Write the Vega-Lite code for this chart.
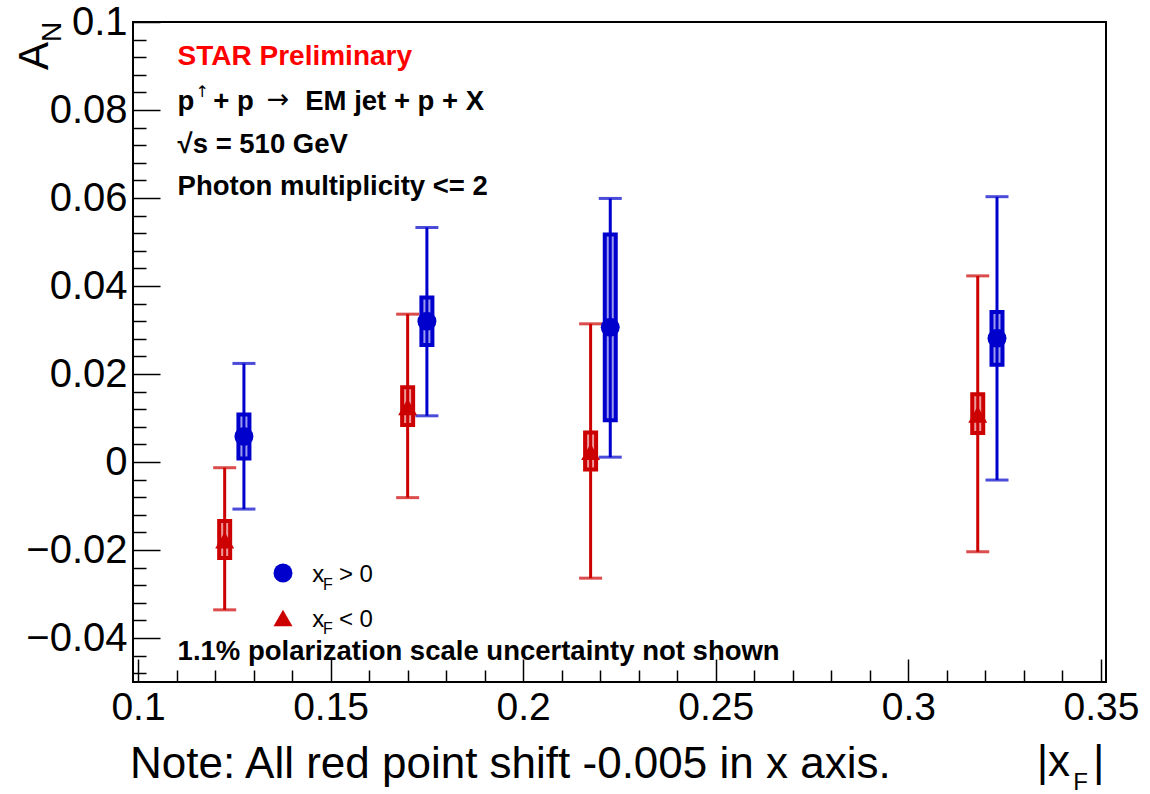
{
  "$schema": "https://vega.github.io/schema/vega-lite/v6.json",
  "width": 973,
  "height": 660,
  "autosize": "none",
  "padding": {"left": 133, "top": 22, "right": 44, "bottom": 112},
  "background": "white",
  "config": {"view": {"stroke": "black", "strokeWidth": 2}},
  "resolve": {"axis": {"x": "independent", "y": "independent"}, "legend": {"color": "independent", "shape": "independent"}},
  "datasets": {
    "pts": [
      {"series": "xF>0", "x": 0.1275, "y": 0.0058, "stat_lo": -0.0107, "stat_hi": 0.0224, "sys_lo": 0.0008, "sys_hi": 0.0108},
      {"series": "xF>0", "x": 0.1750, "y": 0.0320, "stat_lo": 0.0105, "stat_hi": 0.0533, "sys_lo": 0.0266, "sys_hi": 0.0374},
      {"series": "xF>0", "x": 0.2226, "y": 0.0306, "stat_lo": 0.0011, "stat_hi": 0.0599, "sys_lo": 0.0095, "sys_hi": 0.0517},
      {"series": "xF>0", "x": 0.3230, "y": 0.0281, "stat_lo": -0.0041, "stat_hi": 0.0603, "sys_lo": 0.0221, "sys_hi": 0.0341},
      {"series": "xF<0", "x": 0.1225, "y": -0.0178, "stat_lo": -0.0336, "stat_hi": -0.0013, "sys_lo": -0.0218, "sys_hi": -0.0134},
      {"series": "xF<0", "x": 0.1700, "y": 0.0125, "stat_lo": -0.0081, "stat_hi": 0.0336, "sys_lo": 0.0084, "sys_hi": 0.0170},
      {"series": "xF<0", "x": 0.2175, "y": 0.0023, "stat_lo": -0.0264, "stat_hi": 0.0314, "sys_lo": -0.0017, "sys_hi": 0.0067},
      {"series": "xF<0", "x": 0.3180, "y": 0.0108, "stat_lo": -0.0204, "stat_hi": 0.0423, "sys_lo": 0.0066, "sys_hi": 0.0154}
    ],
    "boldlines": [
      {"text": "p", "x": 0.11028, "y": 0.0800},
      {"text": "+ p", "x": 0.11953, "y": 0.0800},
      {"text": "EM jet + p + X", "x": 0.14342, "y": 0.0800},
      {"text": "\u221as = 510 GeV", "x": 0.11028, "y": 0.0702},
      {"text": "Photon multiplicity <= 2", "x": 0.11028, "y": 0.0607},
      {"text": "1.1% polarization scale uncertainty not shown", "x": 0.11028, "y": -0.0450}
    ],
    "arrow": [{"text": "\u2192", "x": 0.13340, "y": 0.0805}],
    "sup": [{"text": "\u2191", "x": 0.11490, "y": 0.08295}],
    "star": [{"text": "STAR Preliminary", "x": 0.11028, "y": 0.0902}],
    "legtext": [
      {"text": "x", "x": 0.14522, "y": -0.02727},
      {"text": "> 0", "x": 0.15216, "y": -0.02727},
      {"text": "x", "x": 0.14522, "y": -0.0375},
      {"text": "< 0", "x": 0.15216, "y": -0.0375}
    ],
    "legsub": [
      {"text": "F", "x": 0.14805, "y": -0.02909},
      {"text": "F", "x": 0.14805, "y": -0.03900}
    ],
    "ytitleA": [{"text": "A", "x": 0.07662, "y": 0.08909}],
    "ytitleN": [{"text": "N", "x": 0.07995, "y": 0.09545}],
    "xtitle": [
      {"text": "|x", "x": 0.33330, "y": -0.07136},
      {"text": "|", "x": 0.34794, "y": -0.07136}
    ],
    "xtitleF": [{"text": "F", "x": 0.34280, "y": -0.07455}],
    "note": [{"text": "Note: All red point shift -0.005 in x axis.", "x": 0.09794, "y": -0.07182}]
  },
  "layer": [
    {
      "mark": {"type": "rule", "strokeDash": [12, 9], "strokeWidth": 1.5, "color": "black"},
      "encoding": {
        "y": {
          "datum": 0, "type": "quantitative",
          "scale": {"domain": [-0.05, 0.1], "nice": false, "zero": false},
          "axis": {
            "orient": "left",
            "values": [-0.04, -0.02, 0, 0.02, 0.04, 0.06, 0.08, 0.1],
            "format": "~g",
            "labelOverlap": false,
            "labelFont": "Liberation Sans",
            "labelFontSize": 40,
            "labelColor": "black",
            "labelPadding": 33,
            "tickSize": -27,
            "tickColor": "black",
            "tickWidth": 1.5,
            "domain": false,
            "grid": false,
            "title": null
          }
        }
      }
    },
    {
      "data": {"name": "pts"},
      "mark": {"type": "bar", "width": 11, "strokeWidth": 4},
      "encoding": {
        "x": {
          "field": "x", "type": "quantitative",
          "scale": {"domain": [0.1, 0.35], "nice": false, "zero": false},
          "axis": {
            "orient": "bottom",
            "values": [0.1, 0.15, 0.2, 0.25, 0.3, 0.35],
            "format": "~g",
            "labelOverlap": false,
            "labelFlush": false,
            "labelFont": "Liberation Sans",
            "labelFontSize": 39,
            "labelColor": "black",
            "labelPadding": 29,
            "tickSize": -23,
            "tickColor": "black",
            "tickWidth": 1.5,
            "domain": false,
            "grid": false,
            "title": null
          }
        },
        "y": {"field": "sys_lo", "type": "quantitative", "axis": null},
        "y2": {"field": "sys_hi"},
        "fill": {"field": "series", "type": "nominal", "scale": {"domain": ["xF>0", "xF<0"], "range": ["#9a9aee", "#ee9a9a"]}, "legend": null},
        "stroke": {"field": "series", "type": "nominal", "scale": {"domain": ["xF>0", "xF<0"], "range": ["#0000cc", "#cc0000"]}, "legend": null}
      }
    },
    {
      "data": {"name": "pts"},
      "mark": {"type": "rule", "strokeWidth": 3},
      "encoding": {
        "x": {"field": "x", "type": "quantitative",
          "axis": {"orient": "bottom", "values": [0.11, 0.12, 0.13, 0.14, 0.16, 0.17, 0.18, 0.19, 0.21, 0.22, 0.23, 0.24, 0.26, 0.27, 0.28, 0.29, 0.31, 0.32, 0.33, 0.34],
            "labels": false, "tickSize": -12, "tickColor": "black", "tickWidth": 1.5, "domain": false, "grid": false, "title": null}},
        "y": {"field": "stat_lo", "type": "quantitative",
          "axis": {"orient": "left", "values": [-0.048, -0.044, -0.036, -0.032, -0.028, -0.024, -0.016, -0.012, -0.008, -0.004, 0.004, 0.008, 0.012, 0.016, 0.024, 0.028, 0.032, 0.036, 0.044, 0.048, 0.052, 0.056, 0.064, 0.068, 0.072, 0.076, 0.084, 0.088, 0.092, 0.096],
            "labels": false, "tickSize": -13, "tickColor": "black", "tickWidth": 1.5, "domain": false, "grid": false, "title": null}},
        "y2": {"field": "stat_hi"},
        "color": {"field": "series", "type": "nominal", "scale": {"domain": ["xF>0", "xF<0"], "range": ["#0000cc", "#cc0000"]}, "legend": null}
      }
    },
    {
      "data": {"name": "pts"},
      "transform": [{"fold": ["stat_lo", "stat_hi"], "as": ["k", "v"]}],
      "mark": {"type": "tick", "orient": "horizontal", "size": 23, "thickness": 3},
      "encoding": {
        "x": {"field": "x", "type": "quantitative", "axis": null},
        "y": {"field": "v", "type": "quantitative", "axis": null},
        "color": {"field": "series", "type": "nominal", "legend": null}
      }
    },
    {
      "data": {"name": "pts"},
      "mark": {"type": "point", "filled": true, "opacity": 1, "size": 360},
      "encoding": {
        "x": {"field": "x", "type": "quantitative", "axis": null},
        "y": {"field": "y", "type": "quantitative", "axis": null},
        "color": {"field": "series", "type": "nominal",
          "legend": {"orient": "none", "legendX": 140, "legendY": 541, "direction": "vertical", "title": null, "labelExpr": "''", "labelFontSize": 20, "rowPadding": 25, "symbolSize": 360, "symbolStrokeWidth": 0, "symbolOpacity": 1, "padding": 0}},
        "shape": {"field": "series", "type": "nominal", "scale": {"domain": ["xF>0", "xF<0"], "range": ["circle", "triangle-up"]},
          "legend": {"orient": "none", "legendX": 140, "legendY": 541, "direction": "vertical", "title": null, "labelExpr": "''", "labelFontSize": 20, "rowPadding": 25, "symbolSize": 360, "symbolStrokeWidth": 0, "symbolOpacity": 1, "padding": 0}}
      }
    },
    {
      "data": {"name": "star"},
      "mark": {"type": "text", "align": "left", "baseline": "alphabetic", "font": "Liberation Sans", "fontWeight": "bold", "fontSize": 28, "color": "#ff0000"},
      "encoding": {"x": {"field": "x", "type": "quantitative", "axis": null}, "y": {"field": "y", "type": "quantitative", "axis": null}, "text": {"field": "text"}}
    },
    {
      "data": {"name": "boldlines"},
      "mark": {"type": "text", "align": "left", "baseline": "alphabetic", "font": "Liberation Sans", "fontWeight": "bold", "fontSize": 27.5, "color": "black"},
      "encoding": {"x": {"field": "x", "type": "quantitative", "axis": null}, "y": {"field": "y", "type": "quantitative", "axis": null}, "text": {"field": "text"}}
    },
    {
      "data": {"name": "arrow"},
      "mark": {"type": "text", "align": "left", "baseline": "alphabetic", "font": "DejaVu Sans", "fontSize": 27, "color": "black"},
      "encoding": {"x": {"field": "x", "type": "quantitative", "axis": null}, "y": {"field": "y", "type": "quantitative", "axis": null}, "text": {"field": "text"}}
    },
    {
      "data": {"name": "sup"},
      "mark": {"type": "text", "align": "left", "baseline": "alphabetic", "font": "DejaVu Sans", "fontSize": 16, "color": "black"},
      "encoding": {"x": {"field": "x", "type": "quantitative", "axis": null}, "y": {"field": "y", "type": "quantitative", "axis": null}, "text": {"field": "text"}}
    },
    {
      "data": {"name": "legtext"},
      "mark": {"type": "text", "align": "left", "baseline": "alphabetic", "font": "Liberation Sans", "fontSize": 24, "color": "black"},
      "encoding": {"x": {"field": "x", "type": "quantitative", "axis": null}, "y": {"field": "y", "type": "quantitative", "axis": null}, "text": {"field": "text"}}
    },
    {
      "data": {"name": "legsub"},
      "mark": {"type": "text", "align": "left", "baseline": "alphabetic", "font": "Liberation Sans", "fontSize": 16, "color": "black"},
      "encoding": {"x": {"field": "x", "type": "quantitative", "axis": null}, "y": {"field": "y", "type": "quantitative", "axis": null}, "text": {"field": "text"}}
    },
    {
      "data": {"name": "ytitleA"},
      "mark": {"type": "text", "align": "left", "baseline": "alphabetic", "angle": 270, "font": "Liberation Sans", "fontSize": 42, "color": "black"},
      "encoding": {"x": {"field": "x", "type": "quantitative", "axis": null}, "y": {"field": "y", "type": "quantitative", "axis": null}, "text": {"field": "text"}}
    },
    {
      "data": {"name": "ytitleN"},
      "mark": {"type": "text", "align": "left", "baseline": "alphabetic", "angle": 270, "font": "Liberation Sans", "fontSize": 28, "color": "black"},
      "encoding": {"x": {"field": "x", "type": "quantitative", "axis": null}, "y": {"field": "y", "type": "quantitative", "axis": null}, "text": {"field": "text"}}
    },
    {
      "data": {"name": "xtitle"},
      "mark": {"type": "text", "align": "left", "baseline": "alphabetic", "font": "Liberation Sans", "fontSize": 44, "color": "black"},
      "encoding": {"x": {"field": "x", "type": "quantitative", "axis": null}, "y": {"field": "y", "type": "quantitative", "axis": null}, "text": {"field": "text"}}
    },
    {
      "data": {"name": "xtitleF"},
      "mark": {"type": "text", "align": "left", "baseline": "alphabetic", "font": "Liberation Sans", "fontSize": 24, "color": "black"},
      "encoding": {"x": {"field": "x", "type": "quantitative", "axis": null}, "y": {"field": "y", "type": "quantitative", "axis": null}, "text": {"field": "text"}}
    },
    {
      "data": {"name": "note"},
      "mark": {"type": "text", "align": "left", "baseline": "alphabetic", "font": "Liberation Sans", "fontSize": 44, "color": "black"},
      "encoding": {"x": {"field": "x", "type": "quantitative", "axis": null}, "y": {"field": "y", "type": "quantitative", "axis": null}, "text": {"field": "text"}}
    }
  ]
}
